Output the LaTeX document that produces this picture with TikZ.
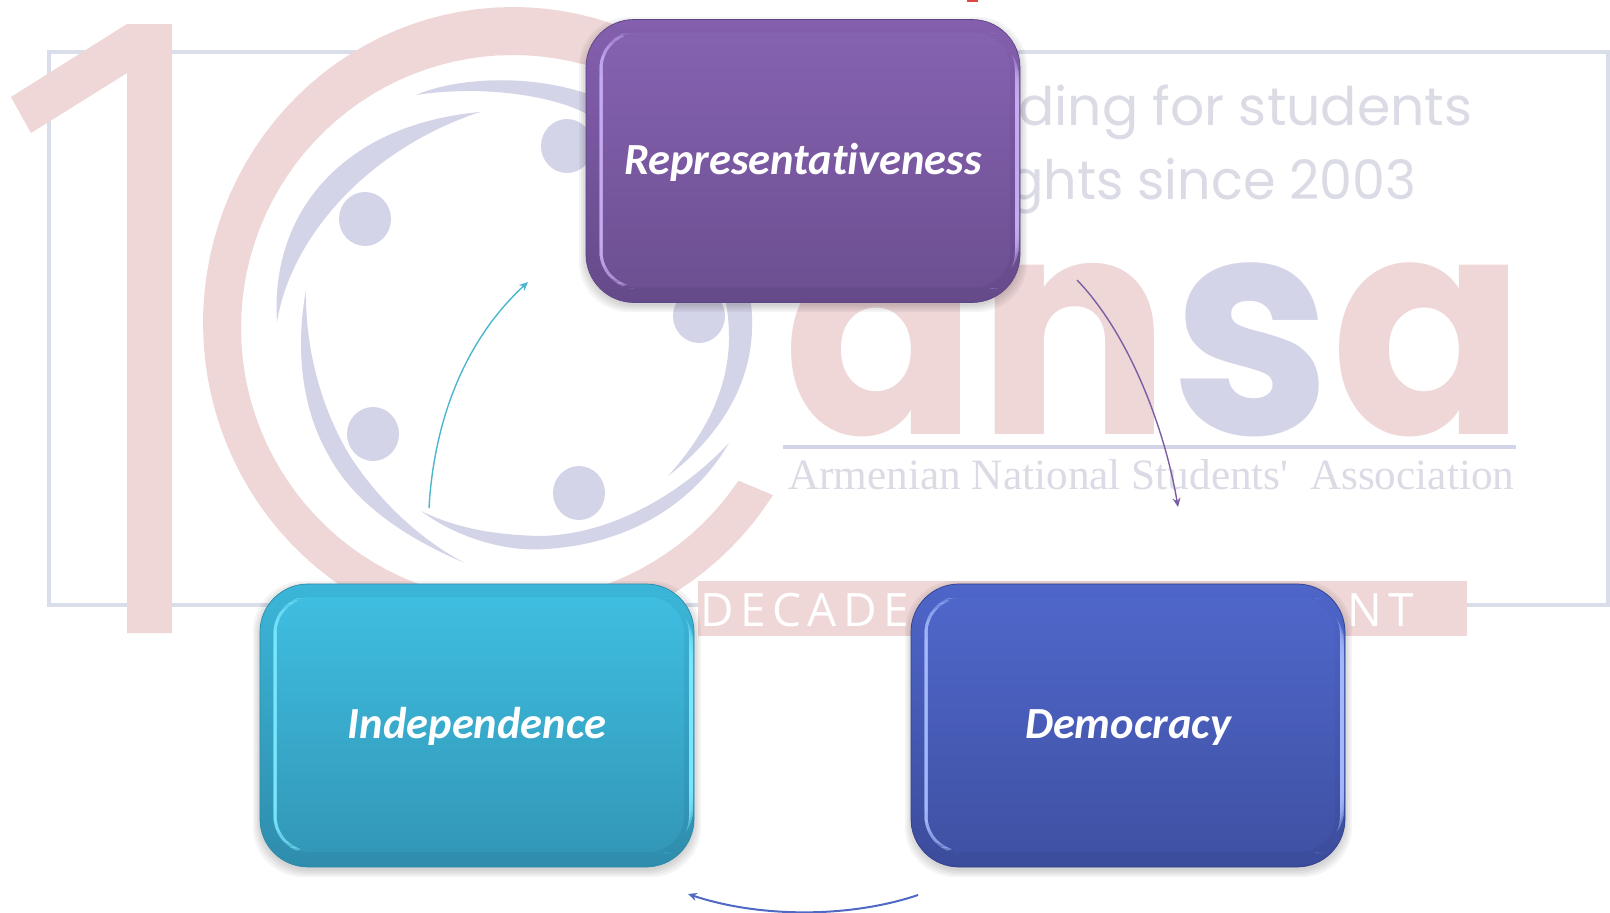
\documentclass[tikz,border=0pt]{standalone}
\usepackage{fontspec}
\usepackage{graphicx}
\setmainfont[Ligatures=NoCommon]{Carlito}
\newfontfamily\logofont{Poppins}
\newfontfamily\assocfont{Liberation Serif}
\newfontfamily\bandfont[LetterSpace=14]{Open Sans}
\usetikzlibrary{arrows.meta}
\definecolor{palered}{HTML}{EFD6D7}
\definecolor{palelav}{HTML}{D4D4E9}
\definecolor{paleline}{HTML}{DADEEA}
\definecolor{palegrey}{HTML}{DBDBE5}
\definecolor{speck}{HTML}{E04545}
\definecolor{purA}{HTML}{845FAE}\definecolor{purB}{HTML}{654A8A}\definecolor{purC}{HTML}{8763B2}
\definecolor{purD}{HTML}{6B4E90}\definecolor{purE}{HTML}{C9B0F6}\definecolor{purF}{HTML}{5D4484}
\definecolor{tealA}{HTML}{3BB6D8}\definecolor{tealB}{HTML}{2F8CAC}\definecolor{tealC}{HTML}{3FC0E3}
\definecolor{tealD}{HTML}{3295B5}\definecolor{tealE}{HTML}{7FE9FF}\definecolor{tealF}{HTML}{2C8AA8}
\definecolor{bluA}{HTML}{4E65C9}\definecolor{bluB}{HTML}{3C4C9C}\definecolor{bluC}{HTML}{5068CC}
\definecolor{bluD}{HTML}{3F50A2}\definecolor{bluE}{HTML}{A9BDFF}\definecolor{bluF}{HTML}{2F3F8C}
\definecolor{connT}{HTML}{4CB6CF}\definecolor{connP}{HTML}{7B5EA3}\definecolor{connB}{HTML}{5069C4}
\tikzset{
  bevel/.style n args={6}{
    rectangle, rounded corners=48pt, minimum width=434pt, minimum height=283pt, inner sep=0pt,
    top color=#1, bottom color=#2, draw=#6, line width=.7pt,
    text=white, font=\fontsize{44.5}{50}\selectfont\bfseries\itshape,
    text height=31pt, text depth=5pt,
    path picture={
      \shade[rounded corners=36pt, top color=#3, bottom color=#4]
        ([xshift=14pt,yshift=-13pt]path picture bounding box.north west) rectangle
        ([xshift=-10pt,yshift=15pt]path picture bounding box.south east);
      \foreach \k in {14,19,25,32,42} {
        \begin{scope}
          \clip ([yshift=-\k pt]path picture bounding box.north west) rectangle
                ([xshift=70pt,yshift=\k pt]path picture bounding box.south west);
          \draw[#5, line width=3pt, opacity=.45, rounded corners=36pt]
            ([xshift=52pt,yshift=-13pt]path picture bounding box.north west) --
            ([xshift=15pt,yshift=-13pt]path picture bounding box.north west) --
            ([xshift=15pt,yshift=15pt]path picture bounding box.south west) --
            ([xshift=52pt,yshift=15pt]path picture bounding box.south west);
        \end{scope}
        \begin{scope}
          \clip ([xshift=-70pt,yshift=-\k pt]path picture bounding box.north east) rectangle
                ([yshift=\k pt]path picture bounding box.south east);
          \draw[#5, line width=4pt, opacity=.45, rounded corners=42pt]
            ([xshift=-52pt,yshift=-9pt]path picture bounding box.north east) --
            ([xshift=-3pt,yshift=-9pt]path picture bounding box.north east) --
            ([xshift=-3pt,yshift=9pt]path picture bounding box.south east) --
            ([xshift=-52pt,yshift=9pt]path picture bounding box.south east);
        \end{scope}
      }
    }},
  softshade/.style={fill=black, opacity=.045, rounded corners=50pt},
  conn/.style={line width=1.4pt, -{Stealth[length=9pt,width=8pt,inset=3pt]}}
}
\newcommand{\softunder}[4]{%
  \foreach \g in {7,5,3,1} {
    \fill[softshade] (#1-\g,#2+4-\g) rectangle (#3+\g,#4+3+\g);
  }}
\begin{document}
\begin{tikzpicture}[x=1pt,y=-1pt]
\useasboundingbox (0,0) rectangle (1610,913);
\clip (0,0) rectangle (1610,913);
\fill[white] (0,0) rectangle (1610,913);
% watermark
\draw[paleline, line width=3.5pt] (49,52) rectangle (1608,605);
\fill[palered] (172,24) -- (127,24) -- (11,97) -- (31,133) -- (127,73) -- (127,633) -- (172,633) -- cycle;
\fill[palered] plot[domain=50:327,samples=90] ({513+310*cos(\x)},{323-316*sin(\x)})
  -- plot[domain=326:50,samples=90] ({513+272*cos(\x)},{328-273*sin(\x)}) -- cycle;
\fill[palelav] (416,95) .. controls (450,80) and (520,72) .. (585,93) .. controls (620,105) and (640,120) .. (650,140)
  .. controls (720,195) and (755,270) .. (752,330) .. controls (750,390) and (715,440) .. (668,476)
  .. controls (705,435) and (728,390) .. (729,340) .. controls (730,270) and (690,190) .. (640,155)
  .. controls (610,130) and (600,125) .. (585,113) .. controls (550,95) and (480,85) .. (416,95) -- cycle;
\fill[palelav] (480,112) .. controls (340,125) and (270,215) .. (277,322) .. controls (290,240) and (365,150) .. (480,112) -- cycle;
\fill[palelav] (306,290) .. controls (295,350) and (302,410) .. (329,456) .. controls (355,505) and (410,540) .. (465,563)
  .. controls (430,545) and (385,510) .. (350,456) .. controls (322,410) and (305,350) .. (306,290) -- cycle;
\fill[palelav] (421,511) .. controls (460,540) and (510,552) .. (545,549) .. controls (620,545) and (690,510) .. (729,443)
  .. controls (680,495) and (610,535) .. (540,536) .. controls (500,535) and (460,530) .. (421,511) -- cycle;
\fill[palelav] (567,146) ellipse [x radius=26pt, y radius=27pt];
\fill[palelav] (365,219) ellipse [x radius=26pt, y radius=27pt];
\fill[palelav] (699,316) ellipse [x radius=26pt, y radius=27pt];
\fill[palelav] (373,434) ellipse [x radius=26pt, y radius=27pt];
\fill[palelav] (579,493) ellipse [x radius=26pt, y radius=27pt];
\node[anchor=north west, inner sep=0pt, font=\logofont\bfseries] (ansa) at (783,263)
  {\resizebox*{742pt}{174pt}{\textcolor{palered}{an}\textcolor{palelav}{s}\textcolor{palered}{a}}};
\node[anchor=north west, inner sep=0pt, text=palegrey, font=\logofont] (slogana) at (1018,85)
  {\resizebox*{454pt}{55pt}{ding for students}};
\node[anchor=north west, inner sep=0pt, text=palegrey, font=\logofont] (sloganb) at (1008,158)
  {\resizebox*{408pt}{56pt}{ghts since 2003}};
\draw[palelav, line width=4pt] (783,447) -- (1516,447);
\node[anchor=base west, inner sep=0pt, text=palegrey, font=\assocfont\fontsize{42}{48}\selectfont] (assoc) at (788,489)
  {\resizebox{726pt}{!}{Armenian National Students'\ \ Association}};
\fill[palered] (698,581) rectangle (1467,636);
\node[anchor=base west, inner sep=0pt, text=white, font=\bandfont\fontsize{46}{50}\selectfont] (decade) at (700,626) {DECADE};
\node[anchor=base west, inner sep=0pt, text=white, font=\bandfont\fontsize{46}{50}\selectfont] (nt) at (1347,626) {NT};
\fill[speck] (967,0) rectangle (978,1.5);
% boxes
\softunder{586}{20}{1020}{302}
\softunder{260}{584}{694}{867}
\softunder{912}{584}{1345}{867}
\node[bevel={purA}{purB}{purC}{purD}{purE}{purF}] (rep) at (803,161) {Representativeness};
\node[bevel={tealA}{tealB}{tealC}{tealD}{tealE}{tealF}] (ind) at (477,725.5) {Independence};
\node[bevel={bluA}{bluB}{bluC}{bluD}{bluE}{bluF}] (dem) at (1128,725.5) {Democracy};
% connectors
\coordinate (a1) at (429,508);
\coordinate (a2) at (528,282);
\coordinate (b1) at (1077,280);
\coordinate (b2) at (1178,507);
\coordinate (c1) at (918,895);
\coordinate (c2) at (688,894);
\draw[conn, color=connT] (a1) .. controls (434,420) and (465,340) .. (a2);
\draw[conn, color=connP] (b1) .. controls (1130,335) and (1165,430) .. (b2);
\draw[conn, color=connB, line width=2pt] (c1) .. controls (850,918) and (760,918) .. (c2);
\end{tikzpicture}
\end{document}
